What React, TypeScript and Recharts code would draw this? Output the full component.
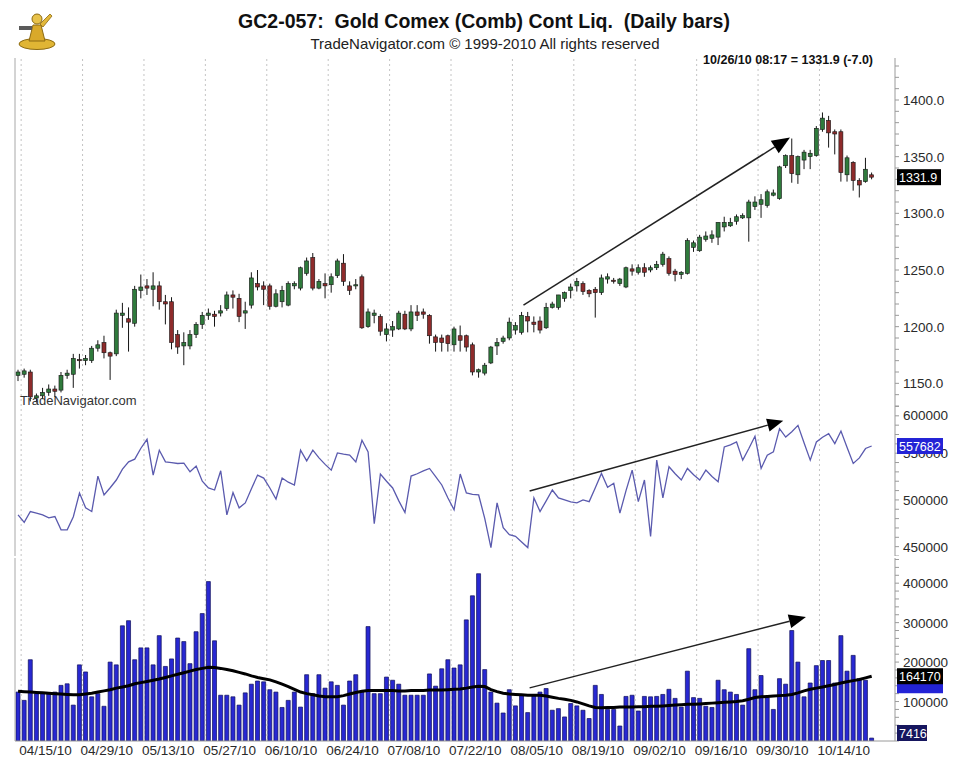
import React from 'react';
import { ComposedChart, Bar, Line, XAxis, YAxis, ReferenceLine } from 'recharts';

const FONT = '"Liberation Sans", Arial, Helvetica, sans-serif';

const dates = [
  "04/14/10","04/15/10","04/16/10","04/19/10","04/20/10","04/21/10","04/22/10","04/23/10","04/26/10","04/27/10",
  "04/28/10","04/29/10","04/30/10","05/03/10","05/04/10","05/05/10","05/06/10","05/07/10","05/10/10","05/11/10",
  "05/12/10","05/13/10","05/14/10","05/17/10","05/18/10","05/19/10","05/20/10","05/21/10","05/24/10","05/25/10",
  "05/26/10","05/27/10","05/28/10","05/31/10","06/01/10","06/02/10","06/03/10","06/04/10","06/07/10","06/08/10",
  "06/09/10","06/10/10","06/11/10","06/14/10","06/15/10","06/16/10","06/17/10","06/18/10","06/21/10","06/22/10",
  "06/23/10","06/24/10","06/25/10","06/28/10","06/29/10","06/30/10","07/01/10","07/02/10","07/05/10","07/06/10",
  "07/07/10","07/08/10","07/09/10","07/12/10","07/13/10","07/14/10","07/15/10","07/16/10","07/19/10","07/20/10",
  "07/21/10","07/22/10","07/23/10","07/26/10","07/27/10","07/28/10","07/29/10","07/30/10","08/02/10","08/03/10",
  "08/04/10","08/05/10","08/06/10","08/09/10","08/10/10","08/11/10","08/12/10","08/13/10","08/16/10","08/17/10",
  "08/18/10","08/19/10","08/20/10","08/23/10","08/24/10","08/25/10","08/26/10","08/27/10","08/30/10","08/31/10",
  "09/01/10","09/02/10","09/03/10","09/06/10","09/07/10","09/08/10","09/09/10","09/10/10","09/13/10","09/14/10",
  "09/15/10","09/16/10","09/17/10","09/20/10","09/21/10","09/22/10","09/23/10","09/24/10","09/27/10","09/28/10",
  "09/29/10","09/30/10","10/01/10","10/04/10","10/05/10","10/06/10","10/07/10","10/08/10","10/11/10","10/12/10",
  "10/13/10","10/14/10","10/15/10","10/18/10","10/19/10","10/20/10","10/21/10","10/22/10","10/25/10","10/26/10",
];

const opens = [
  1157,1158,1160,1137,1139,1142,1145,1144,1157,1158,
  1171,1170,1170,1181,1186,1177,1176,1210,1207,1203,
  1232,1236,1233,1236,1222,1222,1193,1183,1183,1193,
  1202,1210,1211,1212,1216,1228,1225,1212,1219,1238,
  1236,1236,1218,1222,1219,1236,1234,1247,1261,1234,
  1238,1237,1245,1256,1236,1236,1244,1200,1210,1209,
  1193,1197,1198,1211,1198,1213,1213,1210,1191,1190,
  1192,1184,1192,1192,1184,1160,1159,1168,1183,1187,
  1190,1197,1195,1209,1204,1205,1199,1217,1217,1225,
  1232,1236,1238,1232,1233,1230,1242,1241,1238,1235,
  1251,1248,1252,1250,1252,1255,1260,1249,1246,1247,
  1270,1267,1277,1278,1279,1288,1289,1293,1296,1296,
  1306,1308,1307,1316,1313,1342,1351,1334,1347,1350,
  1351,1374,1382,1372,1372,1334,1345,1329,1328,1334,
];
const highs = [
  1162,1163,1162,1141,1146,1149,1148,1160,1162,1176,
  1176,1175,1183,1188,1192,1178,1215,1221,1217,1236,
  1246,1242,1248,1240,1228,1226,1197,1195,1197,1204,
  1213,1216,1214,1219,1231,1232,1229,1222,1248,1250,
  1240,1238,1233,1236,1240,1240,1253,1261,1265,1242,
  1247,1247,1260,1264,1240,1242,1246,1216,1215,1211,
  1203,1205,1214,1214,1219,1219,1216,1211,1193,1193,
  1193,1200,1201,1193,1186,1163,1168,1183,1190,1192,
  1208,1204,1213,1213,1209,1209,1221,1222,1228,1231,
  1238,1243,1240,1233,1235,1246,1247,1243,1243,1253,
  1255,1255,1256,1254,1258,1266,1262,1251,1249,1278,
  1276,1281,1284,1285,1292,1297,1296,1299,1300,1312,
  1315,1317,1321,1321,1342,1352,1366,1351,1356,1356,
  1377,1389,1386,1374,1374,1351,1346,1331,1349,1336,
];
const lows = [
  1152,1155,1134,1133,1136,1139,1138,1142,1154,1146,
  1163,1166,1168,1178,1172,1153,1174,1199,1178,1200,
  1225,1228,1218,1215,1202,1180,1176,1166,1180,1190,
  1198,1206,1200,1209,1214,1216,1204,1198,1216,1232,
  1219,1215,1217,1217,1218,1233,1232,1245,1232,1233,
  1225,1230,1243,1236,1228,1233,1198,1199,1203,1192,
  1187,1191,1197,1197,1196,1205,1207,1185,1178,1178,
  1178,1178,1178,1178,1157,1155,1157,1167,1175,1185,
  1188,1193,1193,1195,1195,1194,1198,1216,1215,1222,
  1225,1231,1228,1226,1208,1228,1238,1238,1236,1234,
  1245,1246,1244,1248,1250,1253,1245,1240,1242,1246,
  1266,1266,1275,1274,1272,1284,1288,1290,1295,1275,
  1303,1296,1305,1315,1312,1340,1327,1326,1339,1339,
  1350,1372,1358,1352,1328,1328,1320,1314,1327,1330,
];
const closes = [
  1160,1161,1138,1139,1142,1145,1143,1157,1159,1172,
  1170,1172,1181,1184,1177,1174,1212,1212,1204,1233,
  1235,1234,1236,1222,1220,1186,1182,1186,1193,1202,
  1210,1212,1209,1214,1228,1226,1209,1214,1243,1235,
  1233,1218,1229,1232,1238,1238,1252,1258,1234,1240,
  1236,1244,1258,1240,1232,1237,1199,1213,1212,1196,
  1198,1200,1212,1198,1213,1210,1211,1192,1186,1186,
  1185,1198,1188,1182,1160,1162,1166,1182,1186,1190,
  1204,1201,1210,1205,1202,1197,1217,1220,1228,1230,
  1235,1240,1231,1229,1230,1243,1244,1240,1242,1252,
  1249,1252,1248,1252,1255,1264,1247,1246,1248,1276,
  1274,1279,1280,1281,1292,1292,1292,1297,1298,1310,
  1310,1312,1319,1318,1341,1351,1335,1350,1354,1353,
  1375,1384,1371,1370,1336,1349,1329,1325,1338.9,1331.9,
];

const openInterest = [
  484000,476000,487600,486000,484000,480800,482200,468000,468000,482000,
  507400,491500,487600,525500,505300,513000,521300,533000,540700,543600,
  555300,564900,526600,553200,540700,540000,539000,539400,530100,536200,
  520000,512800,510600,531200,484000,507800,491500,496800,512000,526600,
  523400,512800,501000,523400,519000,516000,553200,541800,553200,545000,
  538000,531900,550300,549000,547900,540700,563800,551400,474500,527700,
  520000,512800,499000,486500,525500,528000,531000,533700,525000,516000,
  502000,489400,527700,507400,506000,505300,480000,449000,496800,470200,
  462800,461000,455000,449000,502100,487600,499000,510600,502100,500000,
  498000,496800,500000,498200,513000,528400,513500,517800,485800,510000,
  531900,498200,521300,461000,542600,502100,535500,528000,521300,533700,
  527000,521300,531900,525000,519500,556700,559000,562000,542600,555000,
  568100,533700,547900,551400,576300,567300,573000,579800,561000,542600,
  562000,567000,571000,560300,573700,556000,539000,545000,555000,557682,
];

const volume = [
  124000,103000,206000,120000,120000,120000,124000,141000,145000,91000,
  193000,175000,112000,120000,88000,200000,193000,292000,305000,206000,
  236000,236000,193000,267000,189000,208000,261000,252000,196000,277000,
  323000,404000,254000,116000,116000,112000,91000,122000,144000,152000,
  150000,130000,124000,85000,103000,124000,86000,168000,120000,168000,
  134000,150000,141000,91000,152000,168000,124000,290000,120000,120000,
  162000,154000,144000,116000,116000,116000,116000,170000,139000,183000,
  206000,185000,193000,307000,368000,424000,181000,124000,96000,71000,
  130000,89000,116000,72000,116000,124000,133000,78000,82000,61000,
  95000,89000,78000,57000,141000,118000,80000,80000,38000,113000,
  116000,76000,113000,112000,113000,118000,131000,108000,86000,177000,
  110000,108000,88000,85000,154000,130000,124000,118000,91000,234000,
  130000,166000,110000,80000,158000,144000,280000,200000,112000,147000,
  191000,204000,204000,147000,267000,177000,217000,158000,154000,7416,
];

const volumeMA = [
  126000,125000,124000,123000,122000,121000,120000,119000,118000,117000,
  117000,119000,121000,124000,127000,130000,134000,137000,140000,145000,
  148000,151000,154000,157000,161000,165000,169000,173000,177000,181000,
  184000,187000,186000,184000,181000,178000,174000,170000,165000,161000,
  158000,155000,150000,144000,138000,131000,124000,120000,117000,114000,
  112000,112000,112000,115000,119000,123000,126000,128000,128000,128000,
  128000,128000,127000,127000,128000,128000,128000,129000,129000,129000,
  130000,131000,132000,134000,137000,139000,138000,130000,125000,121000,
  119000,118000,117000,116000,116000,116000,114000,111000,108000,106000,
  103000,99000,94000,89000,85000,84000,85000,85000,86000,86000,
  86000,87000,87000,88000,88000,89000,90000,91000,92000,93000,
  93000,94000,95000,96000,97000,98000,99000,100000,102000,106000,
  110000,112000,113000,114000,115000,116000,118000,122000,127000,131000,
  134000,137000,140000,143000,147000,150000,153000,156000,160000,164170,
];

const gridDates = [
  "04/15/10","04/29/10","05/13/10","05/27/10","06/10/10","06/24/10","07/08/10",
  "07/22/10","08/05/10","08/19/10","09/02/10","09/16/10","09/30/10","10/14/10",
];

const priceTicks = [
  1130,1140,1150,1160,1170,1180,1190,1200,1210,1220,1230,1240,1250,1260,1270,1280,
  1290,1300,1310,1320,1330,1340,1350,1360,1370,1380,1390,1400,1410,1420,1430,
];
const oiTicks = [
  440000,450000,460000,470000,480000,490000,500000,510000,520000,530000,540000,
  550000,560000,570000,580000,590000,600000,
];
const volTicks = [
  0,20000,40000,60000,80000,100000,120000,140000,160000,180000,200000,220000,240000,
  260000,280000,300000,320000,340000,360000,380000,400000,420000,440000,460000,
];

const priceArrow = [{ i: 82.3, v: 1219 }, { i: 125.7, v: 1367 }];
const oiArrow = [{ i: 83.3, v: 509600 }, { i: 124.6, v: 584600 }];
const volArrow = [{ i: 83.3, v: 134700 }, { i: 128.3, v: 314400 }];

const rows = dates.map((d, i) => ({
  i,
  date: d,
  open: opens[i],
  high: highs[i],
  low: lows[i],
  close: closes[i],
  range: [lows[i], highs[i]],
  oi: openInterest[i],
  vol: volume[i],
  ma: volumeMA[i],
}));

const gridIdx = gridDates.map((d) => dates.indexOf(d));
const last = dates.length - 1;

const X_DOMAIN: [number, number] = [-0.5, 142.8];
const AXIS_W = 62;
const MARGIN = { top: 0, right: 0, bottom: 0, left: 15 };
const W = 957;
const GREEN = '#2f7a3c';
const RED = '#8e2b2b';
const AXIS_GRAY = '#9a9a9a';
const GRID_GRAY = '#c4c4c4';
const LABEL_FS = 13.5;
const BOX_FS = 12.5;

const PRICE_DOMAIN: [number, number] = [1130, 1437.06];
const OI_DOMAIN: [number, number] = [440000, 600500];
const VOL_DOMAIN: [number, number] = [0, 463800];

const Candle = (props: any) => {
  const { x, y, width, height, payload } = props;
  if (x == null || y == null || !payload) return <g />;
  const top0 = Math.min(y, y + height);
  const h = Math.abs(height);
  const { open, close, high, low } = payload;
  const span = high - low || 1;
  const toY = (v: number) => top0 + ((high - v) / span) * h;
  const cx = x + width / 2;
  const bt = toY(Math.max(open, close));
  const bb = toY(Math.min(open, close));
  const fill = close >= open ? GREEN : RED;
  return (
    <g>
      <line x1={cx} y1={top0} x2={cx} y2={top0 + h} stroke="#151515" strokeWidth={1} />
      <rect x={x} y={bt} width={width} height={Math.max(bb - bt, 1.2)} fill={fill} stroke="#151515" strokeWidth={0.6} />
    </g>
  );
};

const makeTick = (show: (v: number) => boolean, fmt: (v: number) => string, minY = -1e9) => (props: any) => {
  const { x, y, payload } = props;
  const v = payload.value;
  if (!show(v)) return <g />;
  return (
    <text x={x + 2} y={Math.max(y, minY) + 5} fontSize={LABEL_FS} fill="#2a2a2a" fontFamily={FONT} textAnchor="start">
      {fmt(v)}
    </text>
  );
};

const PriceTick = makeTick((v) => v % 50 === 0, (v) => v.toFixed(1));
const OiTick = makeTick((v) => v % 50000 === 0 && v >= 450000, (v) => String(v), 9);
const VolTick = makeTick((v) => v % 100000 === 0 && v > 0, (v) => String(v));

const DateTick = (props: any) => {
  const { x, y, payload } = props;
  const idx = Math.round(payload.value + 0.5);
  return (
    <text x={x - 2} y={y + 14} fontSize={LABEL_FS} fill="#2a2a2a" fontFamily={FONT} textAnchor="start">
      {dates[idx]}
    </text>
  );
};

const arrowShape = (headLen: number, headW: number) => (p: any) => {
  const { x1, y1, x2, y2 } = p;
  if ([x1, y1, x2, y2].some((v) => v == null || isNaN(v))) return <g />;
  const ang = Math.atan2(y2 - y1, x2 - x1);
  const bx = x2 - headLen * Math.cos(ang);
  const by = y2 - headLen * Math.sin(ang);
  const nx = (-Math.sin(ang) * headW) / 2;
  const ny = (Math.cos(ang) * headW) / 2;
  return (
    <g>
      <line x1={x1} y1={y1} x2={bx} y2={by} stroke="#222" strokeWidth={1.5} />
      <polygon points={`${x2},${y2} ${bx + nx},${by + ny} ${bx - nx},${by - ny}`} fill="#000" />
    </g>
  );
};

const boxLabel = (text: string, bg: string, boxW: number, maxY = 1e9, dy = 0, h = 16) => (props: any) => {
  const vb = props.viewBox || {};
  const left = (vb.x ?? 0) + (vb.width ?? 0) + 2;
  const cy = Math.min(vb.y ?? 0, maxY) + dy;
  return (
    <g>
      <rect x={left} y={cy - 8} width={boxW} height={h} fill={bg} />
      {text ? (
        <text x={left + 2} y={cy + 4.5} fill="#fff" fontSize={BOX_FS} fontFamily={FONT}>
          {text}
        </text>
      ) : null}
    </g>
  );
};

const gridLines = (prefix: string) => [
  <ReferenceLine key={prefix + 'b'} x={-0.5} stroke="#a8a8a8" strokeWidth={1} ifOverflow="visible" />,
  ...gridIdx.map((k) => (
    <ReferenceLine key={prefix + k} x={k - 0.5} stroke={GRID_GRAY} strokeDasharray="2 3" ifOverflow="visible" />
  )),
];

const seg = (a: { i: number; v: number }[]) => [
  { x: a[0].i, y: a[0].v },
  { x: a[1].i, y: a[1].v },
];

const PRICE_H = 348;
const OI_H = 150;
const VOL_PLOT_H = 183;
const VOL_H = 200;

// transparent top layer with the same scales: annotations drawn above the axes
const TopLayer = (props: { height: number; bottom: number; domain: [number, number]; children: React.ReactNode }) => (
  <ComposedChart width={W} height={props.height} data={rows} margin={{ top: 0, right: AXIS_W, bottom: props.bottom, left: 15 }}>
    <XAxis type="number" dataKey="i" domain={X_DOMAIN} allowDataOverflow hide />
    <YAxis domain={props.domain} allowDataOverflow hide />
    {props.children}
  </ComposedChart>
);

export default function App() {
  const lastClose = closes[last];
  const change = (closes[last] - closes[last - 1]).toFixed(1);
  return (
    <div style={{ position: 'absolute', left: 0, top: 0, width: W, height: 758, background: '#fff', overflow: 'hidden', fontFamily: FONT }}>
      <div style={{ position: 'absolute', left: 0, top: 58 }}>
        <ComposedChart width={W} height={PRICE_H} data={rows} margin={MARGIN}>
          <XAxis type="number" dataKey="i" domain={X_DOMAIN} allowDataOverflow hide />
          <YAxis
            orientation="right"
            width={AXIS_W}
            domain={PRICE_DOMAIN}
            allowDataOverflow
            ticks={priceTicks}
            interval={0}
            tick={PriceTick}
            tickSize={4}
            tickLine={{ stroke: AXIS_GRAY }}
            axisLine={{ stroke: AXIS_GRAY }}
          />
          {gridLines('p')}
          <Bar dataKey="range" barSize={4} shape={Candle} isAnimationActive={false} />
        </ComposedChart>
      </div>
      <div style={{ position: 'absolute', left: 0, top: 58 }}>
        <TopLayer height={PRICE_H} bottom={0} domain={PRICE_DOMAIN}>
          <ReferenceLine segment={seg(priceArrow)} shape={arrowShape(18, 15)} ifOverflow="visible" />
          <ReferenceLine y={lastClose} stroke="none" ifOverflow="visible" label={boxLabel(lastClose.toFixed(1), '#000', 44)} />
        </TopLayer>
      </div>

      <div style={{ position: 'absolute', left: 0, top: 406 }}>
        <ComposedChart width={W} height={OI_H} data={rows} margin={MARGIN}>
          <XAxis type="number" dataKey="i" domain={X_DOMAIN} allowDataOverflow hide />
          <YAxis
            orientation="right"
            width={AXIS_W}
            domain={OI_DOMAIN}
            allowDataOverflow
            ticks={oiTicks}
            interval={0}
            tick={OiTick}
            tickSize={4}
            tickLine={{ stroke: AXIS_GRAY }}
            axisLine={{ stroke: AXIS_GRAY }}
          />
          {gridLines('o')}
          <Line dataKey="oi" stroke="#5a5aae" strokeWidth={1.3} dot={false} isAnimationActive={false} />
        </ComposedChart>
      </div>
      <div style={{ position: 'absolute', left: 0, top: 406 }}>
        <TopLayer height={OI_H} bottom={0} domain={OI_DOMAIN}>
          <ReferenceLine segment={seg(oiArrow)} shape={arrowShape(16, 13)} ifOverflow="visible" />
          <ReferenceLine y={openInterest[last]} stroke="none" ifOverflow="visible" label={boxLabel(String(openInterest[last]), '#2323d6', 46)} />
        </TopLayer>
      </div>

      <div style={{ position: 'absolute', left: 0, top: 558 }}>
        <ComposedChart width={W} height={VOL_H} data={rows} margin={MARGIN}>
          <XAxis
            type="number"
            dataKey="i"
            domain={X_DOMAIN}
            allowDataOverflow
            ticks={gridIdx.map((k) => k - 0.5)}
            interval={0}
            tick={DateTick}
            tickLine={false}
            tickSize={0}
            tickMargin={0}
            height={VOL_H - VOL_PLOT_H}
            axisLine={{ stroke: AXIS_GRAY }}
          />
          <YAxis
            orientation="right"
            width={AXIS_W}
            domain={VOL_DOMAIN}
            allowDataOverflow
            ticks={volTicks}
            interval={0}
            tick={VolTick}
            tickSize={4}
            tickLine={{ stroke: AXIS_GRAY }}
            axisLine={{ stroke: AXIS_GRAY }}
          />
          {gridLines('v')}
          <Bar dataKey="vol" barSize={4} fill="#2828d2" stroke="#10105a" strokeWidth={0.7} isAnimationActive={false} />
          <Line dataKey="ma" stroke="#000" strokeWidth={3} dot={false} isAnimationActive={false} />
        </ComposedChart>
      </div>
      <div style={{ position: 'absolute', left: 0, top: 558 }}>
        <TopLayer height={VOL_H} bottom={VOL_H - VOL_PLOT_H} domain={VOL_DOMAIN}>
          <ReferenceLine segment={seg(volArrow)} shape={arrowShape(17, 14)} ifOverflow="visible" />
          <ReferenceLine y={volume[last - 1]} stroke="none" ifOverflow="visible" label={boxLabel('', '#2323d6', 46, 1e9, 3, 18)} />
          <ReferenceLine y={volumeMA[last]} stroke="none" ifOverflow="visible" label={boxLabel(String(volumeMA[last]), '#000', 46)} />
          <ReferenceLine y={volume[last]} stroke="none" ifOverflow="visible" label={boxLabel(String(volume[last]), '#16165e', 30, VOL_PLOT_H - 8)} />
        </TopLayer>
      </div>

      <svg width={W} height={758} style={{ position: 'absolute', left: 0, top: 0, pointerEvents: 'none' }}>
        <g>
          <ellipse cx={37} cy={44} rx={18} ry={5.5} fill="#e0b534" stroke="#8c6a12" strokeWidth={1} />
          <path d="M29 41 L33 25 L41 25 L45 41 Z" fill="#d9a92a" stroke="#8c6a12" strokeWidth={1} />
          <circle cx={37} cy={19} r={5} fill="#e8c24a" stroke="#8c6a12" strokeWidth={1} />
          <path d="M40 24 L50 14 L52 16 L43 27 Z" fill="#e3b83a" stroke="#8c6a12" strokeWidth={0.8} />
          <rect x={19} y={26} width={13} height={4} fill="#5a5a5a" />
        </g>
        <text x={484} y={28} textAnchor="middle" fontSize={19.5} fontWeight="bold" fill="#111" fontFamily={FONT} style={{ whiteSpace: 'pre' }}>
          {'GC2-057:  Gold Comex (Comb) Cont Liq.  (Daily bars)'}
        </text>
        <text x={485} y={49} textAnchor="middle" fontSize={15} fill="#222" fontFamily={FONT}>
          TradeNavigator.com © 1999-2010 All rights reserved
        </text>
        <text x={873} y={64} textAnchor="end" fontSize={12.5} fontWeight="bold" fill="#111" fontFamily={FONT}>
          {`${dates[last]} 08:17 = ${lastClose.toFixed(1)} (${change})`}
        </text>
        <text x={20} y={405} fontSize={13} fill="#333" fontFamily={FONT}>
          TradeNavigator.com
        </text>
      </svg>
    </div>
  );
}
